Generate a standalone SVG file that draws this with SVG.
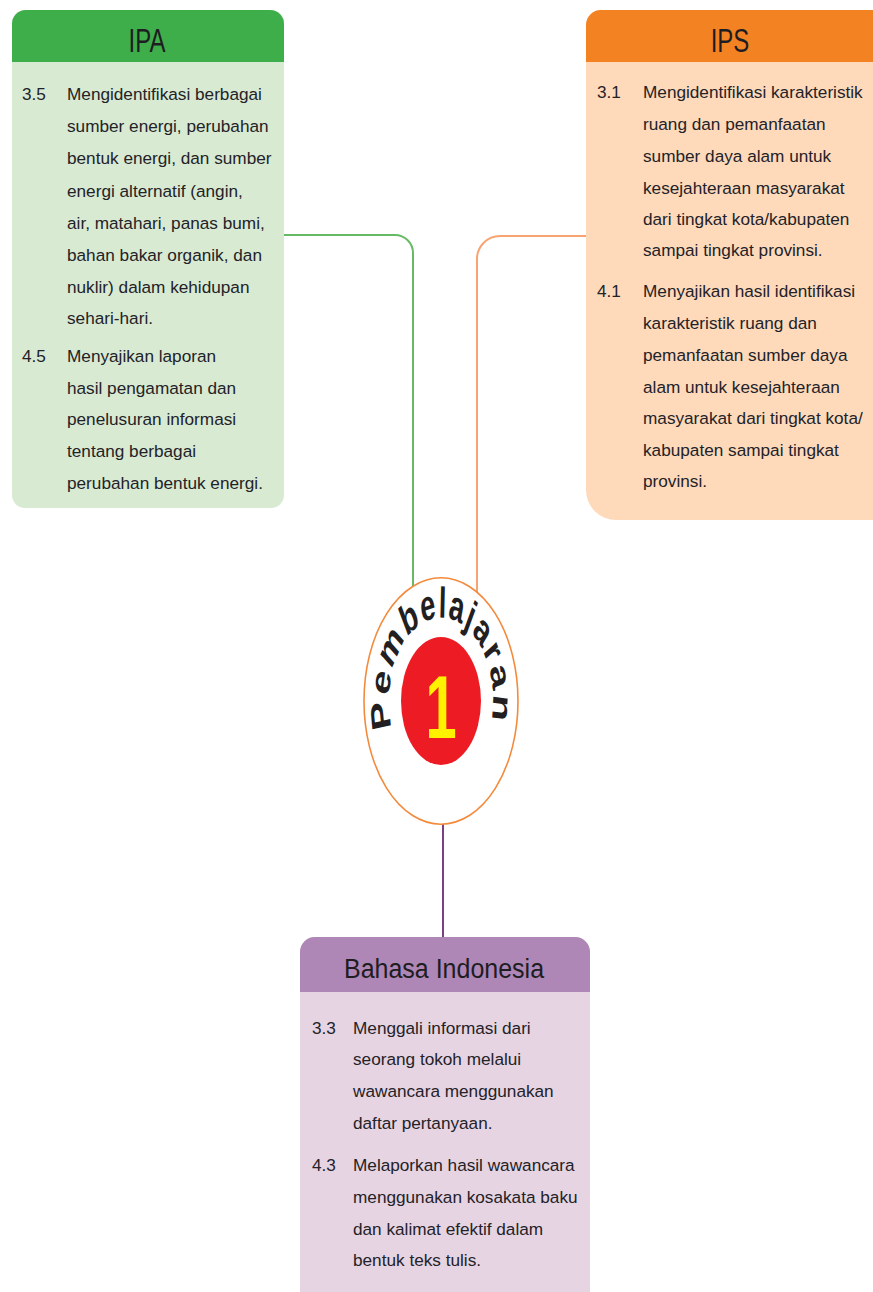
<svg xmlns="http://www.w3.org/2000/svg" width="873" height="1292" viewBox="0 0 873 1292">
  <style>
    .body { font-family: "Liberation Sans", Arial, sans-serif; font-size: 17.2px; fill: #232228; }
    .head { font-family: "Liberation Sans", Arial, sans-serif; fill: #1e1d22; text-anchor: middle; }
    .conn { fill: none; stroke-width: 2; }
    .ring { font-family: "Liberation Sans", Arial, sans-serif; font-weight: bold; font-size: 27px; fill: #231f20; letter-spacing: 1.5px; text-anchor: middle; }
  </style>
  <defs>
    <!-- baseline arc for the ring lettering, 240 degrees over the top -->
    <path id="ringPath" d="M -45,26 A 52,52 0 1 1 45,26"/>
  </defs>
  <rect width="873" height="1292" fill="#ffffff"/>

  <!-- connectors -->
  <g id="connectors">
    <path class="conn" stroke="#66ba66" d="M284,235 H395 A18,18 0 0 1 413,253 V592"/>
    <path class="conn" stroke="#f7a372" d="M586,236 H500 A23,23 0 0 0 477,259 V598"/>
    <path class="conn" stroke="#7b3f88" stroke-width="1.6" d="M443,820 V938"/>
  </g>

  <!-- IPA -->
  <g id="node-ipa">
    <rect x="12" y="10" width="272" height="498" rx="13" fill="#d9ead3"/>
    <path d="M12,62 V24 A14,14 0 0 1 26,10 H270 A14,14 0 0 1 284,24 V62 Z" fill="#3eae4a"/>
    <text class="head" font-size="24" transform="translate(147,52) scale(1,1.35)">IPA</text>
    <text class="body" x="22" y="100">3.5</text>
    <text class="body" x="67" y="100">Mengidentifikasi berbagai</text>
    <text class="body" x="67" y="132">sumber energi, perubahan</text>
    <text class="body" x="67" y="164">bentuk energi, dan sumber</text>
    <text class="body" x="67" y="197">energi alternatif (angin,</text>
    <text class="body" x="67" y="229">air, matahari, panas bumi,</text>
    <text class="body" x="67" y="261">bahan bakar organik, dan</text>
    <text class="body" x="67" y="293">nuklir) dalam kehidupan</text>
    <text class="body" x="67" y="324">sehari-hari.</text>
    <text class="body" x="22" y="362">4.5</text>
    <text class="body" x="67" y="362">Menyajikan laporan</text>
    <text class="body" x="67" y="394">hasil pengamatan dan</text>
    <text class="body" x="67" y="425">penelusuran informasi</text>
    <text class="body" x="67" y="457">tentang berbagai</text>
    <text class="body" x="67" y="489">perubahan bentuk energi.</text>
  </g>

  <!-- IPS -->
  <g id="node-ips">
    <path d="M586,25 A15,15 0 0 1 601,10 H880 V520 H616 A30,30 0 0 1 586,490 Z" fill="#fedabb"/>
    <path d="M586,62 V25 A15,15 0 0 1 601,10 H880 V62 Z" fill="#f38223"/>
    <text class="head" font-size="24" transform="translate(730,52) scale(1,1.35)">IPS</text>
    <text class="body" x="597" y="98">3.1</text>
    <text class="body" x="643" y="98">Mengidentifikasi karakteristik</text>
    <text class="body" x="643" y="130">ruang dan pemanfaatan</text>
    <text class="body" x="643" y="162">sumber daya alam untuk</text>
    <text class="body" x="643" y="194">kesejahteraan masyarakat</text>
    <text class="body" x="643" y="225">dari tingkat kota/kabupaten</text>
    <text class="body" x="643" y="256">sampai tingkat provinsi.</text>
    <text class="body" x="597" y="297">4.1</text>
    <text class="body" x="643" y="297">Menyajikan hasil identifikasi</text>
    <text class="body" x="643" y="329">karakteristik ruang dan</text>
    <text class="body" x="643" y="361">pemanfaatan sumber daya</text>
    <text class="body" x="643" y="393">alam untuk kesejahteraan</text>
    <text class="body" x="643" y="424">masyarakat dari tingkat kota/</text>
    <text class="body" x="643" y="456">kabupaten sampai tingkat</text>
    <text class="body" x="643" y="487">provinsi.</text>
  </g>

  <!-- Pembelajaran 1: drawn round, stretched vertically -->
  <g id="node-pembelajaran" transform="translate(441,701) scale(1,1.6)">
    <circle r="77" fill="#ffffff" stroke="#f38a3c" stroke-width="1.6" vector-effect="non-scaling-stroke"/>
    <circle r="40" fill="#ed1c24"/>
    <text class="ring"><textPath href="#ringPath" startOffset="107">Pembelajaran</textPath></text>
    <text x="0" y="23" text-anchor="middle" font-family="'Liberation Sans', Arial, sans-serif" font-weight="bold" font-size="56" fill="#fff200">1</text>
  </g>

  <!-- Bahasa Indonesia -->
  <g id="node-bahasa">
    <path d="M300,1300 V952 A15,15 0 0 1 315,937 H575 A15,15 0 0 1 590,952 V1300 Z" fill="#e7d4e2"/>
    <path d="M300,992 V952 A15,15 0 0 1 315,937 H575 A15,15 0 0 1 590,952 V992 Z" fill="#ae87b6"/>
    <text class="head" font-size="25" transform="translate(444,978) scale(1,1.12)">Bahasa Indonesia</text>
    <text class="body" x="312" y="1034">3.3</text>
    <text class="body" x="353" y="1034">Menggali informasi dari</text>
    <text class="body" x="353" y="1065">seorang tokoh melalui</text>
    <text class="body" x="353" y="1097">wawancara menggunakan</text>
    <text class="body" x="353" y="1129">daftar pertanyaan.</text>
    <text class="body" x="312" y="1171">4.3</text>
    <text class="body" x="353" y="1171">Melaporkan hasil wawancara</text>
    <text class="body" x="353" y="1203">menggunakan kosakata baku</text>
    <text class="body" x="353" y="1235">dan kalimat efektif dalam</text>
    <text class="body" x="353" y="1266">bentuk teks tulis.</text>
  </g>
</svg>
